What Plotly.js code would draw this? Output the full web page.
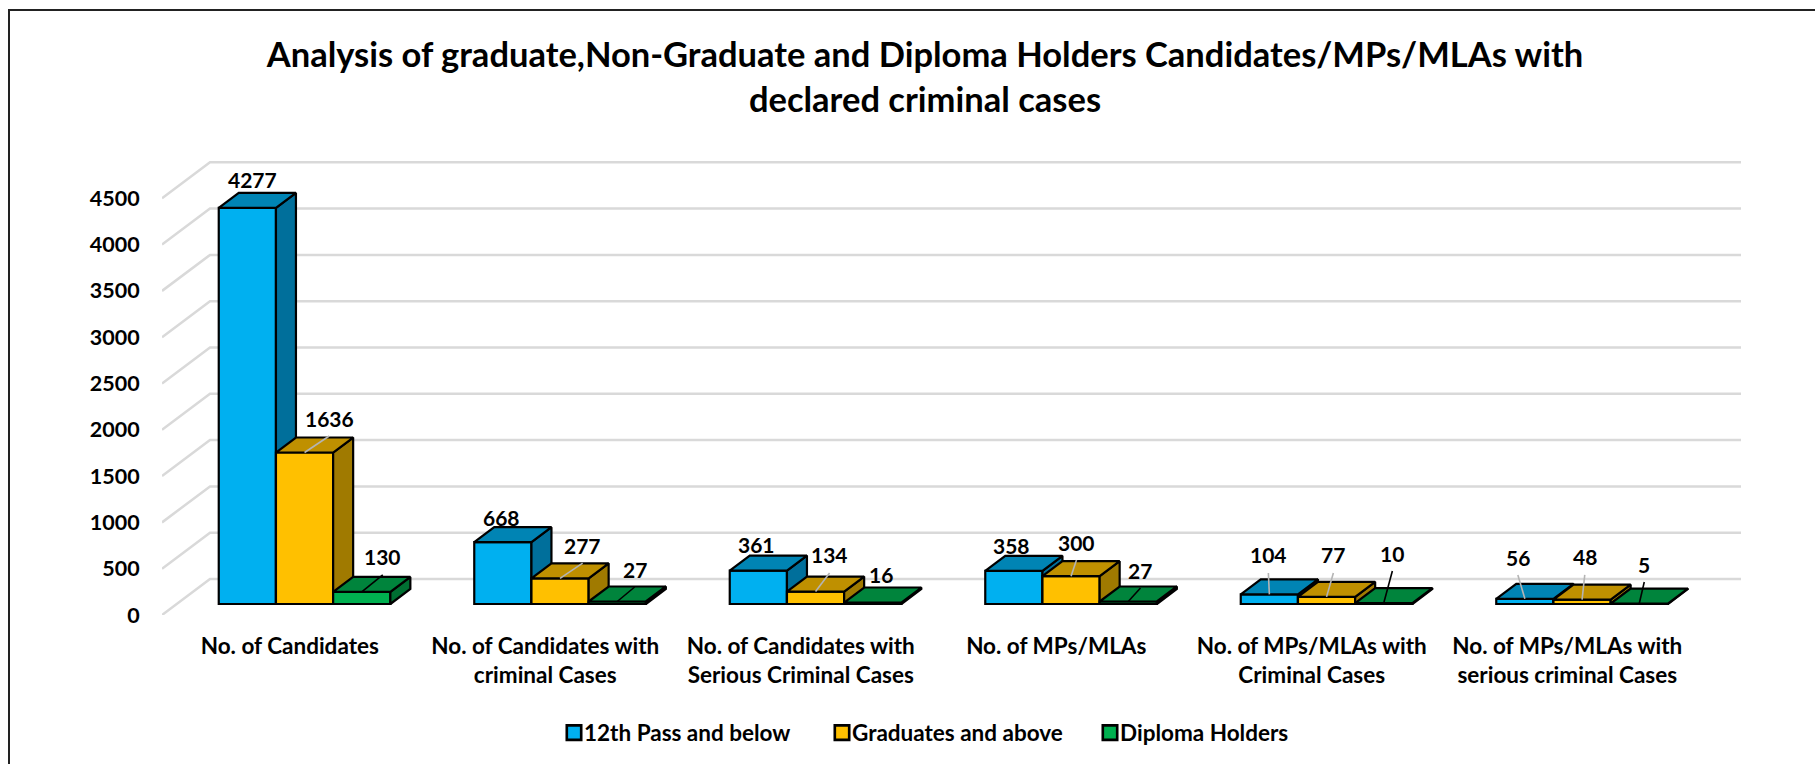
<!DOCTYPE html>
<html>
<head>
<meta charset="utf-8">
<script src="https://cdn.plot.ly/plotly-3.0.1.min.js"></script>
<style>html,body{margin:0;padding:0;background:#fff;overflow:hidden}#chart{width:1815px;height:764px}</style>
</head>
<body>
<div id="chart"></div>
<script>
// ---- chart data ----
const categories = [
  "No. of Candidates",
  "No. of Candidates with<br>criminal Cases",
  "No. of Candidates with<br>Serious Criminal Cases",
  "No. of MPs/MLAs",
  "No. of MPs/MLAs with<br>Criminal Cases",
  "No. of MPs/MLAs with<br>serious criminal Cases"
];
const pass12Below = [4277, 668, 361, 358, 104, 56];
const graduatesAbove = [1636, 277, 134, 300, 77, 48];
const diplomaHolders = [130, 27, 16, 27, 10, 5];
const yTicks = [0, 500, 1000, 1500, 2000, 2500, 3000, 3500, 4000, 4500];

// ---- hand placed label offsets (px from the bar's front top edge) ----
const labelDx = [[5.4,-1,-2,-2.4,-1,-7],[24.7,22.6,14,5.4,6.8,2.7],[21,17.4,7.8,12.2,8.6,5]];
const labelDy = [[28,25,25.6,25.8,39.4,41.8],[34.5,33.3,36.6,34.2,41.9,42.6],[35,32.5,28.5,31.5,50,39.5]];
const leaderOn = [[0,0,0,0,1,1],[1,1,1,1,1,1],[1,1,0,1,1,1]];

// ---- layout of the oblique projection ----
const W = 1815, H = 764;
const M = {l:162, r:74, t:150, b:149};
const pxX = (W-M.l-M.r)/6.18, pxY = 0.0926;
const xRange = [-0.5, 5.68];
const yRange = [0, (H-M.t-M.b)/pxY];
const toX = p => p/pxX, toY = p => p/pxY;
const wallDx = toX(48), wallDy = toY(36);
const barBase = toY(11), depthX = toX(20), depthY = toY(15);
const barW = 57.2/pxX, firstLeft = (219-290)/pxX;

const seriesList = [
  {name:"12th Pass and below", vals:pass12Below, front:"#00B0F0", top:"#0084B4", side:"#006F9B"},
  {name:"Graduates and above", vals:graduatesAbove, front:"#FFC000", top:"#BF9000", side:"#A07A00"},
  {name:"Diploma Holders", vals:diplomaHolders, front:"#00B050", top:"#00843C", side:"#006F32"}
];
const fontFam = "Lato, 'Open Sans', sans-serif";
const traces = [];

// grid: back wall lines plus the floor diagonals, from the tick values
const gx = [], gy = [];
yTicks.forEach(t => {
  gx.push(xRange[0], xRange[0]+wallDx, xRange[1], null);
  gy.push(t, t+wallDy, t+wallDy, null);
});
traces.push({type:'scatter', mode:'lines', x:gx, y:gy, xaxis:'x', yaxis:'y',
  line:{color:'#D9D9D9', width:2.5}, hoverinfo:'skip', showlegend:false});

// bars: one overlaid subplot per series so nearer faces paint over farther ones
const annotations = [];
const leadGreyX=[], leadGreyY=[], leadBlackX=[], leadBlackY=[];
seriesList.forEach((s, si) => {
  const xa = 'x'+(si+2), ya = 'y'+(si+2);
  const lefts = categories.map((c,i) => i + firstLeft + si*barW);
  traces.push({type:'bar', name:s.name, x:lefts.map(l => l+barW/2), y:s.vals,
    base:s.vals.map(()=>barBase), width:barW, xaxis:xa, yaxis:ya,
    marker:{color:s.front, line:{color:'#000', width:2.2}}, hoverinfo:'skip', legendgroup:s.name});
  const tx=[], ty=[], sx=[], sy=[];
  s.vals.forEach((v,i) => {
    const l=lefts[i], r=l+barW, b=barBase, t=barBase+v;
    tx.push(l,r,r+depthX,l+depthX,l,null);
    ty.push(t,t,t+depthY,t+depthY,t,null);
    sx.push(r,r,r+depthX,r+depthX,r,null);
    sy.push(b,t,t+depthY,b+depthY,b,null);
    const xm=l+barW/2;
    annotations.push({xref:'x', yref:'y', x:xm, y:t, xshift:labelDx[si][i], yshift:labelDy[si][i],
      text:String(v), showarrow:false, xanchor:'center', yanchor:'middle',
      font:{family:fontFam, size:21, color:'#000', weight:700}});
    if (leaderOn[si][i]) {
      const ex=xm+toX(labelDx[si][i]), ey=t+toY(labelDy[si][i]-18);
      if (si===2) { leadBlackX.push(xm,ex,null); leadBlackY.push(t,ey,null); }
      else { leadGreyX.push(xm,ex,null); leadGreyY.push(t,ey,null); }
    }
  });
  [[sx,sy,s.side],[tx,ty,s.top]].forEach(f => traces.push({type:'scatter', mode:'lines', x:f[0], y:f[1],
    fill:'toself', fillcolor:f[2], line:{color:'#000', width:2.2},
    xaxis:xa, yaxis:ya, hoverinfo:'skip', showlegend:false}));
});
traces.push({type:'scatter', mode:'lines', x:leadGreyX, y:leadGreyY, xaxis:'x4', yaxis:'y4',
  line:{color:'#B4B4B4', width:1.6}, hoverinfo:'skip', showlegend:false});
traces.push({type:'scatter', mode:'lines', x:leadBlackX, y:leadBlackY, xaxis:'x4', yaxis:'y4',
  line:{color:'#000', width:1.6}, hoverinfo:'skip', showlegend:false});

const hidden = () => ({range:xRange, overlaying:'x', visible:false, fixedrange:true});
const hiddenY = () => ({range:yRange, overlaying:'y', visible:false, fixedrange:true});
const plotH = H-M.t-M.b, plotW = W-M.l-M.r;
const layout = {
  width:W, height:H, margin:M, paper_bgcolor:'#fff', plot_bgcolor:'rgba(0,0,0,0)', barmode:'overlay',
  title:{text:"Analysis of graduate,Non-Graduate and Diploma Holders Candidates/MPs/MLAs with<br>declared criminal cases",
    x:925/W, xanchor:'center', y:1-67/H, yanchor:'top',
    font:{family:fontFam, size:34.5, color:'#000', weight:700}},
  xaxis:{range:xRange, tickmode:'array', tickvals:categories.map((c,i)=>i), ticktext:categories,
    showgrid:false, zeroline:false, showline:false, ticks:'outside', ticklen:11, tickcolor:'rgba(0,0,0,0)',
    tickangle:0, tickfont:{family:fontFam, size:22.5, color:'#000', weight:700}, fixedrange:true},
  yaxis:{range:yRange, tickmode:'array', tickvals:yTicks, showgrid:false, zeroline:false, showline:false,
    ticks:'outside', ticklen:17, tickcolor:'rgba(0,0,0,0)',
    tickfont:{family:fontFam, size:21.5, color:'#000', weight:700}, fixedrange:true},
  xaxis2:hidden(), xaxis3:hidden(), xaxis4:hidden(),
  yaxis2:hiddenY(), yaxis3:hiddenY(), yaxis4:hiddenY(),
  showlegend:true,
  legend:{orientation:'h', xref:'container', yref:'container', x:946/W, xanchor:'center', y:1-733/H, yanchor:'middle',
    font:{family:fontFam, size:22.5, color:'#000', weight:700}, traceorder:'normal',
    entrywidth:223, entrywidthmode:'pixels', bgcolor:'rgba(0,0,0,0)'},
  annotations:annotations,
  shapes:[{type:'path', xref:'paper', yref:'paper', layer:'below',
    path:`M ${(W-M.l)/plotW} ${(615-10)/plotH} L ${(9-M.l)/plotW} ${(615-10)/plotH} L ${(9-M.l)/plotW} ${(615-H)/plotH}`,
    line:{color:'#222', width:2}}]
};
Plotly.newPlot('chart', traces, layout, {displayModeBar:false, staticPlot:true}).then(() => {
  // closer, slightly larger legend swatches, as in the reference
  document.querySelectorAll('#chart .legend .legendsymbols').forEach(g => {
    g.setAttribute('transform', 'translate(6,0)');
  });
  document.querySelectorAll('#chart .legend .legendpoints').forEach(g => {
    const t = g.getAttribute('transform') || '';
    const prev = t.replace(/scale\([^)]*\)/, '');
    g.setAttribute('transform', prev + ' scale(1.2)');
  });
});
</script>
</body>
</html>
